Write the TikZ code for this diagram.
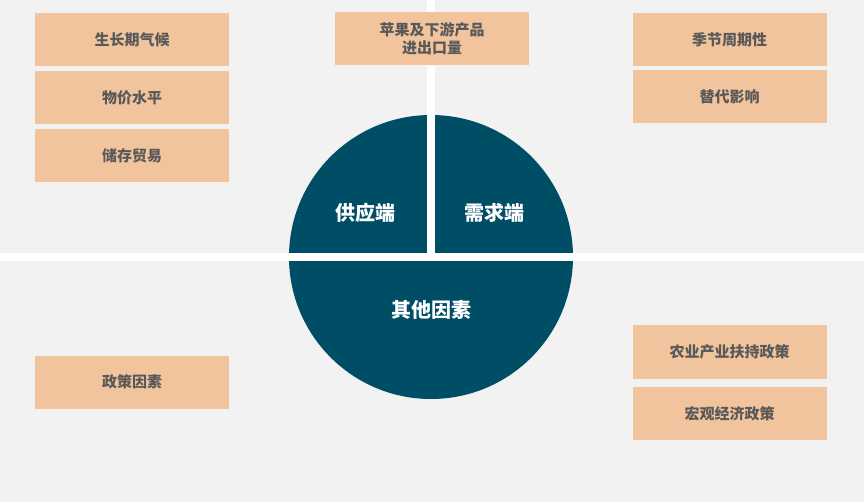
\documentclass[tikz,border=0pt]{standalone}
\usepackage{fontspec}
\newfontfamily\cjk{Noto Sans CJK SC}
\definecolor{bg}{HTML}{F2F2F2}
\definecolor{teal}{HTML}{004D66}
\definecolor{peach}{HTML}{F2C49D}
\definecolor{tx}{HTML}{595959}
\begin{document}
\begin{tikzpicture}[x=1pt,y=-1pt,
  box/.style={fill=peach,draw=none,minimum width=194pt,minimum height=53pt,inner sep=0pt,font=\cjk\bfseries\fontsize{15}{18}\selectfont,text=tx,align=center},
  lab/.style={font=\cjk\bfseries\fontsize{20}{24}\selectfont,text=white}]
\fill[bg] (0,0) rectangle (864,502);
\useasboundingbox (0,0) rectangle (864,502);
\fill[teal] (431,257) circle (142);
\fill[white] (0,253) rectangle (864,261);
\fill[white] (427,0) rectangle (435,257);
\node[lab] (s) at (365,213) {供应端};
\node[lab] (d) at (494,213) {需求端};
\node[lab] (o) at (431,310) {其他因素};
\node[box] (a1) at (132,40) {生长期气候};
\node[box] (a2) at (132,98) {物价水平};
\node[box] (a3) at (132,155.5) {储存贸易};
\node[box] (b1) at (432,39) {苹果及下游产品\\进出口量};
\node[box] (c1) at (729.5,40) {季节周期性};
\node[box] (c2) at (729.5,97) {替代影响};
\node[box] (p1) at (132,382) {政策因素};
\node[box] (q1) at (729.5,352) {农业产业扶持政策};
\node[box] (q2) at (729.5,413.5) {宏观经济政策};
\end{tikzpicture}
\end{document}
